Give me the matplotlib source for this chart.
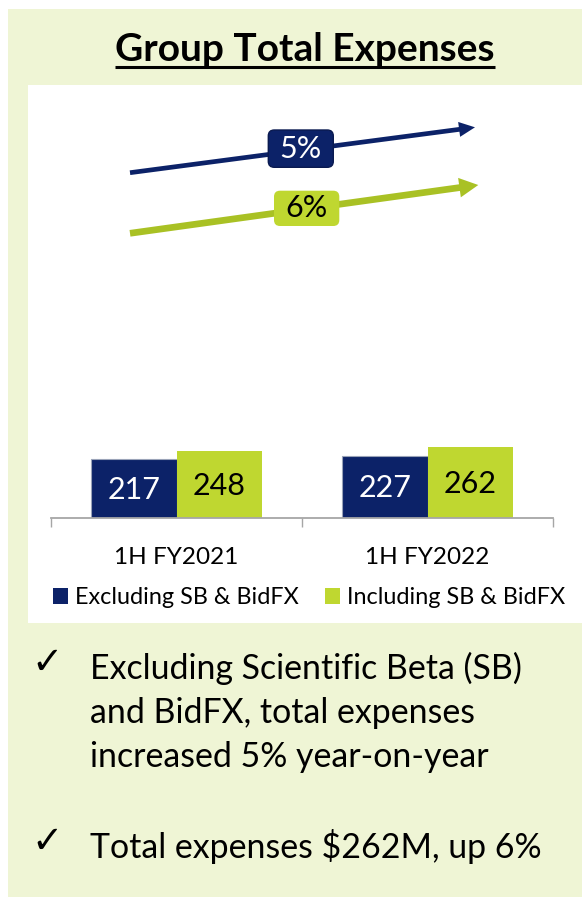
import matplotlib
matplotlib.use('Agg')
import matplotlib.pyplot as plt
from matplotlib.patches import Rectangle, FancyBboxPatch, FancyArrow
import numpy as np

# ---- data ----
categories = ['1H FY2021', '1H FY2022']
series_names = ['Excluding SB & BidFX', 'Including SB & BidFX']
excl_values = [217, 227]
incl_values = [248, 262]
growth_labels = ['5%', '6%']
title_text = 'Group Total Expenses'
bullet_1 = ['Excluding Scientific Beta (SB)', 'and BidFX, total expenses', 'increased 5% year-on-year']
bullet_2 = ['Total expenses $262M, up 6%']

# ---- style ----
NAVY = '#0c2268'
LIME = '#bfd730'
LIME_DARK = '#a9c124'
PANEL = '#eff5d5'
GRAY = '#a6a6a6'
FONT = 'Lato'
plt.rcParams['font.family'] = [FONT, 'DejaVu Sans']

W, H, DPI = 582, 899, 100
fig = plt.figure(figsize=(W / DPI, H / DPI), dpi=DPI)
fig.patch.set_facecolor('white')

# overlay in pixel coordinates (for panel decorations)
bg = fig.add_axes([0, 0, 1, 1], zorder=0)
bg.set_xlim(0, W)
bg.set_ylim(H, 0)
bg.axis('off')
bg.add_patch(Rectangle((8.3, 9.3), W - 8.3, 888, color=PANEL, lw=0))
bg.add_patch(Rectangle((28.3, 85), W - 28.3, 538.3, color='white', lw=0))

# ---- bar chart ----
ax_left, ax_right, ax_base, ax_top = 51, 553, 517.5, 85
ax = fig.add_axes([ax_left / W, (H - ax_base) / H, (ax_right - ax_left) / W, (ax_base - ax_top) / H], zorder=1)
ax.patch.set_alpha(0)
x = np.arange(len(categories))
bw = 0.34
b1 = ax.bar(x - bw / 2, excl_values, bw, color=NAVY, edgecolor='#9aa3b8', linewidth=0.8, label=series_names[0])
b2 = ax.bar(x + bw / 2, incl_values, bw, color=LIME, linewidth=0, label=series_names[1])
ax.set_xlim(-0.5, len(categories) - 0.5)
ax.set_ylim(0, (ax_base - ax_top) / 0.269)
for s in ['top', 'left', 'right']:
    ax.spines[s].set_visible(False)
ax.spines['bottom'].set_color(GRAY)
ax.spines['bottom'].set_linewidth(1.3)
ax.set_yticks([])
ax.set_xticks(x)
ax.set_xticklabels([])
ax.tick_params(axis='x', which='major', length=0)
ax.set_xticks(np.arange(len(categories) + 1) - 0.5, minor=True)
ax.tick_params(axis='x', which='minor', length=6.8, width=1.0, color=GRAY)

for bars, vals, col in [(b1, excl_values, 'white'), (b2, incl_values, 'black')]:
    for rect, v in zip(bars, vals):
        ax.annotate(f'{v}', xy=(rect.get_x() + rect.get_width() / 2, v / 2),
                    xytext=(0, -7.5), textcoords='offset points',
                    ha='center', va='baseline', fontsize=22, color=col)

for i, c in enumerate(categories):
    ax.annotate(c, xy=(i, 0), xycoords=('data', 'axes fraction'),
                xytext=(0, -33.5), textcoords='offset points',
                ha='center', va='baseline', fontsize=17.5, color='black')

# legend
handles = [Rectangle((0, 0), 1, 1, fc=NAVY), Rectangle((0, 0), 1, 1, fc=LIME)]
fig.legend(handles, series_names, loc='center left',
           bbox_to_anchor=(53.3 / W, (H - 597.5) / H), ncol=2, frameon=False,
           fontsize=16.8, handlelength=0.64, handleheight=0.64, handletextpad=0.3,
           columnspacing=1.1, borderpad=0, borderaxespad=0)

# ---- growth arrows ----
def arrow(p0, p1, width, hw, hl, color):
    bg.add_patch(FancyArrow(p0[0], p0[1], p1[0] - p0[0], p1[1] - p0[1], width=width,
                            head_width=hw, head_length=hl, length_includes_head=True,
                            color=color, lw=0))

arrow((130, 172.7), (475, 127.3), 4.7, 15, 16, NAVY)
arrow((130, 233.3), (478.3, 185), 6.7, 19.6, 19, LIME_DARK)
bg.add_patch(FancyBboxPatch((268.3, 130), 65, 37.3, boxstyle='round,pad=0,rounding_size=6',
                            fc=NAVY, ec='#0a1a50', lw=1))
bg.text(300.8, 148.6, growth_labels[0], ha='center', va='center', fontsize=22, color='white')
bg.add_patch(FancyBboxPatch((274, 190.7), 65.3, 35.3, boxstyle='round,pad=0,rounding_size=6',
                            fc=LIME, ec='none', lw=0))
bg.text(306.6, 208.4, growth_labels[1], ha='center', va='center', fontsize=22, color='black')

# ---- title ----
t = bg.text(305, 61, title_text, ha='center', va='baseline', fontsize=28,
            fontweight='bold', color='black')
fig.canvas.draw()
bb = t.get_window_extent(fig.canvas.get_renderer())
bg.plot([bb.x0, bb.x1], [66.7, 66.7], color='black', lw=2.2, solid_capstyle='butt')

# ---- bullets ----
for baseline, lines in [(679, bullet_1), (858, bullet_2)]:
    bg.text(31, baseline - 5, '\u2713', family='DejaVu Sans', fontsize=27,
            ha='left', va='baseline', color='black')
    for k, line in enumerate(lines):
        bg.text(90, baseline + 44 * k, line, ha='left', va='baseline', fontsize=24.4, color='black')

fig.savefig('out.png', dpi=DPI)
